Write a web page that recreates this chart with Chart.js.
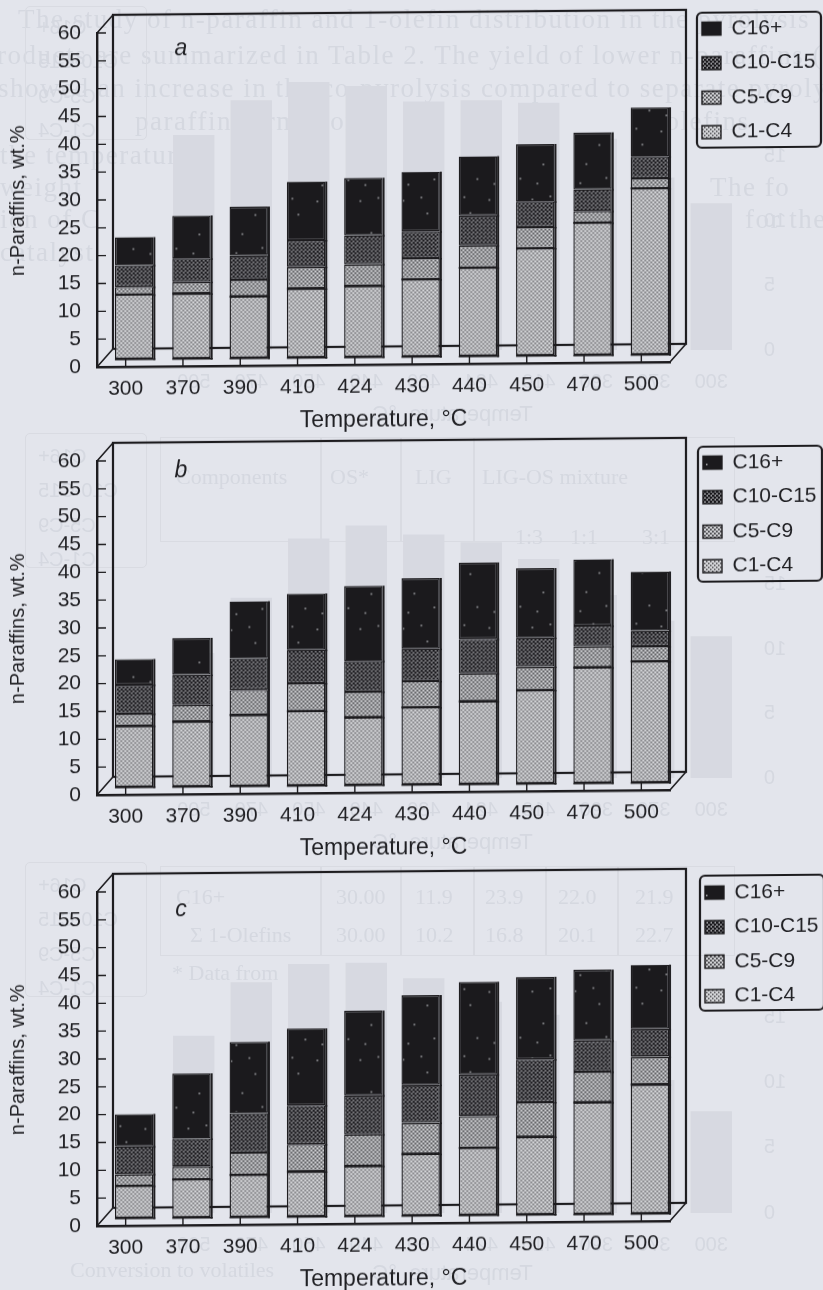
<!DOCTYPE html>
<html>
<head>
<meta charset="utf-8">
<style>
  html, body { margin: 0; padding: 0; background: #e3e5ec; }
  body { width: 823px; height: 1290px; position: relative; overflow: hidden; }
  canvas { position: absolute; left: 0; }
  canvas.main { transform: skewY(-0.5deg); transform-origin: 97px 367px; filter: blur(0.35px); }
  canvas.ghost { transform: scaleX(-1); filter: blur(0.7px); }
  /* show-through of the other pages of the scan */
  .t { position: absolute; white-space: nowrap; color: #d5d8e0; font: 27px "Liberation Serif", serif; letter-spacing: 1.5px; filter: blur(0.7px); }
  .s { font-size: 22px; letter-spacing: 0; }
  .m { transform: scaleX(-1); font: 20px "Liberation Sans", sans-serif; letter-spacing: 0; }
  .r { position: absolute; border: 1.5px solid #d9dbe2; box-sizing: border-box; }
</style>
<script src="https://cdn.jsdelivr.net/npm/chart.js@4"></script>
</head>
<body>
<div class="t" style="left:18px;top:4px">The study of n-paraffin and 1-olefin distribution in the pyrolysis</div>
<div class="t" style="left:-18px;top:40px">products are summarized in Table 2. The yield of lower n-paraffins (C</div>
<div class="t" style="left:-2px;top:73px">showed an increase in the co-pyrolysis compared to separate pyrolysis</div>
<div class="t" style="left:135px;top:106px">paraffin formation</div>
<div class="t" style="left:640px;top:106px">1-olefins</div>
<div class="t" style="left:0px;top:140px">the temperature</div>
<div class="t" style="left:0px;top:172px">weight</div>
<div class="t" style="left:710px;top:172px">The fo</div>
<div class="t" style="left:0px;top:204px">ion of C</div>
<div class="t" style="left:745px;top:204px">for the</div>
<div class="t" style="left:0px;top:237px">catalyst</div>

<div class="r" style="left:25px;top:6px;width:122px;height:134px;border-radius:5px"></div>
<div class="r" style="left:25px;top:433px;width:122px;height:135px;border-radius:5px"></div>
<div class="r" style="left:25px;top:862px;width:122px;height:135px;border-radius:5px"></div>
<div class="r" style="left:160px;top:437px;width:575px;height:105px"></div>
<div class="r" style="left:320px;top:437px;width:0;height:105px"></div>
<div class="r" style="left:400px;top:437px;width:0;height:105px"></div>
<div class="r" style="left:473px;top:437px;width:0;height:105px"></div>
<div class="r" style="left:160px;top:866px;width:575px;height:90px"></div>
<div class="r" style="left:320px;top:866px;width:0;height:90px"></div>
<div class="r" style="left:400px;top:866px;width:0;height:90px"></div>
<div class="r" style="left:473px;top:866px;width:0;height:90px"></div>
<div class="r" style="left:545px;top:866px;width:0;height:90px"></div>
<div class="r" style="left:617px;top:866px;width:0;height:90px"></div>

<div class="t s" style="left:176px;top:464px">Components</div>
<div class="t s" style="left:330px;top:464px">OS*</div>
<div class="t s" style="left:415px;top:464px">LIG</div>
<div class="t s" style="left:482px;top:464px">LIG-OS mixture</div>
<div class="t s" style="left:515px;top:524px">1:3</div>
<div class="t s" style="left:570px;top:524px">1:1</div>
<div class="t s" style="left:642px;top:524px">3:1</div>
<div class="t s" style="left:176px;top:884px">C16+</div>
<div class="t s" style="left:336px;top:884px">30.00</div>
<div class="t s" style="left:415px;top:884px">11.9</div>
<div class="t s" style="left:485px;top:884px">23.9</div>
<div class="t s" style="left:558px;top:884px">22.0</div>
<div class="t s" style="left:635px;top:884px">21.9</div>
<div class="t s" style="left:190px;top:922px">Σ 1-Olefins</div>
<div class="t s" style="left:336px;top:922px">30.00</div>
<div class="t s" style="left:415px;top:922px">10.2</div>
<div class="t s" style="left:485px;top:922px">16.8</div>
<div class="t s" style="left:558px;top:922px">20.1</div>
<div class="t s" style="left:635px;top:922px">22.7</div>
<div class="t s" style="left:172px;top:960px">* Data from</div>
<div class="t s" style="left:70px;top:1257px">Conversion to volatiles</div>

<div class="t m" style="left:38px;top:16px">C16+</div>
<div class="t m" style="left:38px;top:50px">C10-C15</div>
<div class="t m" style="left:38px;top:85px">C5-C9</div>
<div class="t m" style="left:38px;top:119px">C1-C4</div>
<div class="t m" style="left:38px;top:445px">C16+</div>
<div class="t m" style="left:38px;top:479px">C10-C15</div>
<div class="t m" style="left:38px;top:514px">C5-C9</div>
<div class="t m" style="left:38px;top:548px">C1-C4</div>
<div class="t m" style="left:38px;top:874px">C16+</div>
<div class="t m" style="left:38px;top:908px">C10-C15</div>
<div class="t m" style="left:38px;top:943px">C5-C9</div>
<div class="t m" style="left:38px;top:977px">C1-C4</div>

<canvas class="ghost" id="ghostA" width="823" height="440" style="top:0px"></canvas>
<canvas class="ghost" id="ghostB" width="823" height="440" style="top:428px"></canvas>
<canvas class="ghost" id="ghostC" width="823" height="440" style="top:859px"></canvas>
<canvas class="main" id="chartA" width="823" height="440" style="top:0px"></canvas>
<canvas class="main" id="chartB" width="823" height="440" style="top:428px"></canvas>
<canvas class="main" id="chartC" width="823" height="440" style="top:859px"></canvas>
<script>
const temperatures = ['300', '370', '390', '410', '424', '430', '440', '450', '470', '500'];
const seriesNames = ['C1-C4', 'C5-C9', 'C10-C15', 'C16+'];

// panel a, wt.%
const a_C1C4 = [11.6, 11.7, 11.1, 12.4, 12.8, 13.9, 15.9, 19.3, 23.8, 29.9];
const a_C5C9 = [1.4, 2.1, 3.0, 3.9, 3.9, 3.8, 4.0, 3.8, 2.1, 1.8];
const a_C10C15 = [3.9, 4.2, 4.4, 4.8, 5.2, 4.8, 5.4, 4.6, 3.9, 3.9];
const a_C16 = [5.0, 7.7, 8.7, 10.5, 10.3, 10.7, 10.6, 10.3, 10.2, 8.8];

// panel b
const b_C1C4 = [11.0, 11.7, 12.8, 13.4, 12.2, 13.9, 14.9, 16.8, 20.8, 21.8];
const b_C5C9 = [2.2, 3.0, 4.5, 5.0, 4.6, 4.7, 5.0, 4.2, 3.8, 2.7];
const b_C10C15 = [5.2, 5.4, 5.7, 6.0, 5.5, 5.8, 6.2, 5.2, 3.7, 2.8];
const b_C16 = [4.6, 6.6, 10.2, 10.1, 13.5, 12.7, 13.7, 12.5, 11.9, 10.6];

// panel c
const c_C1C4 = [5.8, 6.9, 7.6, 8.1, 9.0, 11.1, 12.1, 14.0, 20.1, 23.2];
const c_C5C9 = [2.1, 2.3, 4.0, 4.9, 5.7, 5.6, 5.7, 6.2, 5.5, 5.0];
const c_C10C15 = [5.0, 5.0, 7.1, 7.0, 7.0, 6.8, 7.5, 7.7, 5.6, 5.0];
const c_C16 = [5.8, 11.7, 12.8, 13.8, 15.2, 16.1, 16.6, 14.8, 12.7, 11.5];

// faint bars showing through from the back of the page (mirrored there)
const ghost_a = [11.4, 13.4, 16.4, 19.2, 19.4, 19.3, 20.5, 20.8, 19.4, 16.7];
const ghost_b = [11.0, 12.2, 14.2, 17.0, 18.3, 18.9, 19.6, 18.6, 14.0, 9.7];
const ghost_c = [7.8, 10.2, 13.2, 15.2, 16.2, 18.0, 19.2, 19.1, 17.7, 13.6];

const INK = '#1d1c1f';
const TEXT = '#1f1f23';
const FONT = '"Liberation Sans", Arial, sans-serif';

// small tiles standing in for the halftone of the scan
function makePattern(bg, dot, step, size) {
  const tile = document.createElement('canvas');
  tile.width = step * 2;
  tile.height = step * 2;
  const t = tile.getContext('2d');
  t.fillStyle = bg;
  t.fillRect(0, 0, tile.width, tile.height);
  t.fillStyle = dot;
  t.fillRect(0, 0, size, size);
  t.fillRect(step, step, size, size);
  return t.createPattern(tile, 'repeat');
}

function makeSpeckled() {
  const tile = document.createElement('canvas');
  tile.width = 43;
  tile.height = 67;
  const t = tile.getContext('2d');
  t.fillStyle = '#1b1a1d';
  t.fillRect(0, 0, 43, 67);
  t.fillStyle = '#b5b5ba';
  [[7, 9], [31, 22], [18, 41], [38, 55], [25, 6], [12, 60]].forEach(p => t.fillRect(p[0], p[1], 1.5, 1.5));
  return t.createPattern(tile, 'repeat');
}

const fills = {
  'C1-C4': makePattern('#d6d7da', '#4a4a4e', 2, 1.5),
  'C5-C9': makePattern('#d0d1d4', '#46464a', 2, 1.8),
  'C10-C15': makePattern('#9a9a9e', '#17161a', 2, 2.5),
  'C16+': makeSpeckled()
};

// 3D box of the chart: walls, floor, inward ticks, legend frame, panel letter
const boxPlugin = {
  id: 'box3d',
  afterLayout(chart) {
    const o = chart.options.plugins.box3d;
    const l = chart.legend;
    // the legend puts its label padding before the first swatch
    l.left = o.legendLeft - 13.5;
    l.right = o.legendLeft + 125;
    l.top = o.legendTop;
    l.bottom = o.legendTop + 220;
  },
  beforeDraw(chart) {
    const o = chart.options.plugins.box3d;
    const ctx = chart.ctx;
    const { left, right, top, bottom } = chart.chartArea;
    const dx = 16, dy = 18;
    ctx.save();
    ctx.strokeStyle = INK;
    ctx.lineWidth = 2.2;
    ctx.strokeRect(left + dx, top - dy, right - left, bottom - top);
    ctx.lineWidth = 1.6;
    ctx.beginPath();
    ctx.moveTo(left, top); ctx.lineTo(left + dx, top - dy);
    ctx.moveTo(left, bottom); ctx.lineTo(left + dx, bottom - dy);
    ctx.moveTo(right, bottom); ctx.lineTo(right + dx, bottom - dy);
    ctx.stroke();

    ctx.lineWidth = 1.4;
    ctx.beginPath();
    chart.scales.y.ticks.forEach(t => {
      const y = chart.scales.y.getPixelForValue(t.value);
      ctx.moveTo(left, y); ctx.lineTo(left + 9, y);
    });
    chart.scales.x.ticks.forEach((t, i) => {
      const x = chart.scales.x.getPixelForTick(i);
      ctx.moveTo(x, bottom); ctx.lineTo(x, bottom - 7);
    });
    ctx.stroke();

    // legend frame
    ctx.lineWidth = 2.2;
    ctx.beginPath();
    ctx.roundRect(o.legendLeft - 5, o.frameTop, 124, 135, 5);
    ctx.stroke();

    ctx.fillStyle = TEXT;
    ctx.font = 'italic 23px ' + FONT;
    ctx.textAlign = 'center';
    ctx.fillText(o.letter, 181, o.letterY);
    ctx.restore();
  },
  beforeDatasetsDraw(chart) {
    chart.ctx.save();
    chart.ctx.translate(8.5, -7.5);
  },
  afterDatasetsDraw(chart) {
    // dark right and bottom edge of each column, heavier line on top of C1-C4
    const ctx = chart.ctx;
    ctx.fillStyle = INK;
    chart.data.datasets.forEach((ds, i) => {
      chart.getDatasetMeta(i).data.forEach(bar => {
        ctx.fillRect(bar.x + bar.width / 2, bar.y, 2, bar.base - bar.y + 1.5);
        if (i === 0) {
          ctx.fillRect(bar.x - bar.width / 2, bar.base, bar.width + 2, 1.5);
          ctx.fillRect(bar.x - bar.width / 2, bar.y - 1, bar.width, 2);
        }
      });
    });
    ctx.restore();
  }
};

function makeChart(id, c1, c5, c10, c16, letter, letterY, legendLeft, legendTop, frameTop) {
  const values = [c1, c5, c10, c16];
  new Chart(document.getElementById(id), {
    type: 'bar',
    plugins: [boxPlugin],
    data: {
      labels: temperatures,
      datasets: seriesNames.map((name, i) => ({
        label: name,
        data: values[i],
        backgroundColor: fills[name],
        borderColor: INK,
        borderWidth: 1.4,
        borderSkipped: false,
        barPercentage: 1,
        categoryPercentage: 0.67,
        clip: false
      }))
    },
    options: {
      responsive: false,
      animation: false,
      layout: { padding: { left: 0, right: 153, top: 33, bottom: 0 } },
      plugins: {
        tooltip: { enabled: false },
        box3d: { letter: letter, letterY: letterY, legendLeft: legendLeft, legendTop: legendTop, frameTop: frameTop },
        legend: {
          position: 'chartArea',
          align: 'start',
          reverse: true,
          labels: {
            boxWidth: 19,
            boxHeight: 13,
            padding: 13.5,
            color: TEXT,
            font: { family: FONT, size: 21 }
          }
        }
      },
      scales: {
        x: {
          stacked: true,
          afterFit: s => { s.height = 73; },
          grid: { display: true, drawOnChartArea: false, drawTicks: false },
          border: { display: true, color: INK, width: 2.4 },
          ticks: { color: TEXT, font: { family: FONT, size: 21 }, padding: 10, maxRotation: 0, autoSkip: false },
          title: { display: true, text: 'Temperature, °C', color: TEXT, font: { family: FONT, size: 23 }, padding: { top: 0, bottom: 4 } }
        },
        y: {
          stacked: true,
          min: 0,
          max: 60,
          afterFit: s => { s.width = 97; },
          grid: { display: true, drawOnChartArea: false, drawTicks: false },
          border: { display: true, color: INK, width: 2.4 },
          ticks: { stepSize: 5, autoSkip: false, color: TEXT, font: { family: FONT, size: 21 }, padding: 16 },
          title: { display: true, text: 'n-Paraffins, wt.%', color: TEXT, font: { family: FONT, size: 20 }, padding: { top: 6, bottom: 0 } }
        }
      }
    }
  });
}

function makeGhost(id, values, base) {
  const faint = '#d5d8e0';
  new Chart(document.getElementById(id), {
    type: 'bar',
    data: {
      labels: temperatures,
      datasets: [{ data: values, backgroundColor: '#d7d9e1', barPercentage: 1, categoryPercentage: 0.72 }]
    },
    options: {
      responsive: false,
      animation: false,
      layout: { padding: { left: 0, right: 165, top: base - 335, bottom: 0 } },
      plugins: { legend: { display: false }, tooltip: { enabled: false } },
      scales: {
        x: {
          afterFit: s => { s.height = 440 - base; },
          grid: { display: false },
          border: { display: false },
          ticks: { color: faint, font: { family: FONT, size: 20 }, padding: 12, maxRotation: 0, autoSkip: false },
          title: { display: true, text: 'Temperature, °C', color: faint, font: { family: FONT, size: 22 }, padding: { top: 2, bottom: 12 } }
        },
        y: {
          min: 0,
          max: 25,
          afterFit: s => { s.width = 83; },
          grid: { display: false },
          border: { display: false },
          ticks: { stepSize: 5, color: faint, font: { family: FONT, size: 20 }, padding: 16, callback: v => (v > 15 ? '' : v) }
        }
      }
    }
  });
}

makeGhost('ghostA', ghost_a, 350);
makeGhost('ghostB', ghost_b, 350);
makeGhost('ghostC', ghost_c, 354);

makeChart('chartA', a_C1C4, a_C5C9, a_C10C15, a_C16, 'a', 56, 702, 10, 18);
makeChart('chartB', b_C1C4, b_C5C9, b_C10C15, b_C16, 'b', 50, 703, 16, 24);
makeChart('chartC', c_C1C4, c_C5C9, c_C10C15, c_C16, 'c', 58, 705, 15, 22);
</script>
</body>
</html>
